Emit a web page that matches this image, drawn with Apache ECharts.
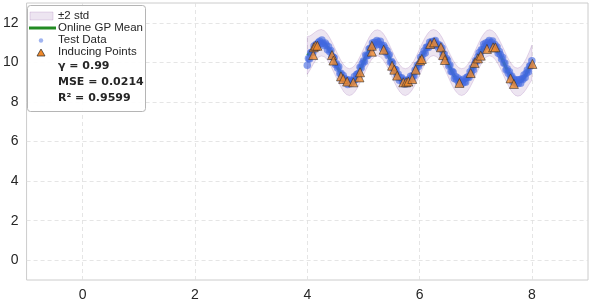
<!DOCTYPE html>
<html>
<head>
<meta charset="utf-8">
<script src="https://cdn.jsdelivr.net/npm/echarts@6/dist/echarts.min.js"></script>
<style>
html,body{margin:0;padding:0;background:#fff;}
#chart{width:590px;height:302px;}
</style>
</head>
<body>
<div id="chart"></div>
<script>
// ---- Data ----
const xTicks = [0, 2, 4, 6, 8];
const yTicks = [0, 2, 4, 6, 8, 10, 12];

// Online GP mean and 2*std, sampled at x = 4.00, 4.05, ..., 8.00
const MEAN_X0 = 4.0, MEAN_STEP = 0.05;
const gpMean = [10.35,10.48,10.66,10.83,10.95,10.99,10.95,10.81,10.58,10.30,10.00,9.69,9.42,9.19,9.05,9.00,9.05,9.19,9.41,9.70,
  10.01,10.32,10.60,10.82,10.95,10.99,10.94,10.80,10.58,10.30,9.99,9.68,9.40,9.18,9.04,9.00,9.06,9.20,9.42,9.70,
  10.01,10.32,10.60,10.82,10.96,11.00,10.95,10.81,10.59,10.31,10.00,9.69,9.41,9.19,9.05,9.00,9.05,9.19,9.41,9.69,
  10.00,10.31,10.59,10.81,10.95,10.99,10.94,10.80,10.58,10.30,9.99,9.68,9.40,9.18,9.04,9.00,9.05,9.20,9.42,9.70,
  9.99];
const gpStd2 = [0.95,0.86,0.78,0.72,0.68,0.67,0.66,0.66,0.66,0.67,0.67,0.67,0.67,0.68,0.68,0.68,0.68,0.67,0.67,0.66,
  0.66,0.66,0.66,0.66,0.66,0.66,0.66,0.67,0.67,0.67,0.67,0.68,0.68,0.68,0.68,0.68,0.67,0.67,0.66,0.66,
  0.66,0.66,0.66,0.66,0.66,0.66,0.66,0.67,0.67,0.67,0.67,0.68,0.68,0.68,0.68,0.68,0.67,0.67,0.66,0.66,
  0.66,0.66,0.66,0.66,0.66,0.66,0.66,0.67,0.67,0.67,0.68,0.68,0.68,0.69,0.70,0.71,0.72,0.74,0.77,0.81,
  0.88];

// Test data sampled at x = 4.00, 4.02, ..., 8.00
const TEST_X0 = 4.0, TEST_STEP = 0.02;
const testY = [9.85,10.19,10.17,10.48,10.51,10.50,10.83,10.73,10.91,10.78,11.00,11.07,10.94,11.13,10.96,10.85,10.98,10.88,10.64,10.79,
  10.54,10.60,10.30,10.27,10.22,9.89,9.93,9.72,9.78,9.44,9.45,9.19,9.33,9.19,9.04,9.13,8.88,9.05,9.11,8.93,
  9.07,9.05,9.29,9.13,9.38,9.42,9.44,9.75,9.71,9.93,
  10.07,10.03,10.37,10.34,10.35,10.68,10.71,10.69,10.98,10.85,11.01,10.87,11.10,11.03,10.91,11.07,10.88,10.70,10.85,10.74,
  10.50,10.59,10.33,10.38,10.01,10.04,9.95,9.65,9.65,9.63,9.35,9.40,9.10,9.21,9.22,9.02,9.09,8.91,9.10,9.01,
  8.93,9.16,9.30,9.16,9.34,9.31,9.61,9.58,9.86,9.79,
  9.94,10.26,10.15,10.41,10.58,10.47,10.76,10.78,10.75,11.01,10.91,11.06,10.87,11.06,11.10,10.88,10.93,10.73,10.86,10.67,
  10.73,10.40,10.42,10.15,10.20,10.10,9.82,9.87,9.54,9.55,9.49,9.18,9.29,9.12,9.21,8.95,9.04,9.09,8.93,9.15,
  9.02,8.99,9.23,9.27,9.23,9.53,9.46,9.73,9.63,9.92,
  10.10,10.05,10.28,10.49,10.37,10.64,10.63,10.91,10.81,10.98,10.83,11.02,11.11,10.91,11.00,11.08,10.80,10.90,10.72,10.78,
  10.46,10.55,10.38,10.17,10.25,9.96,9.97,9.63,9.68,9.45,9.52,9.29,9.31,9.02,9.16,9.08,8.93,9.12,8.95,9.12,
  8.95,9.17,9.13,9.36,9.23,9.45,9.61,9.52,9.81,9.83,
  10.08];

// Inducing points
const indX = [4.105,4.115,4.145,4.18,4.44,4.465,4.60,4.64,4.71,4.82,4.93,4.94,5.15,5.15,
  5.36,5.51,5.55,5.60,5.71,5.76,5.80,5.87,5.93,6.01,6.04,6.19,6.26,6.38,6.42,6.45,
  6.71,6.91,6.98,7.04,7.09,7.20,7.31,7.35,7.62,7.68,8.01];
const indY = [10.37,10.76,10.84,10.84,10.37,10.09,9.29,9.16,9.03,8.99,9.24,9.50,10.54,10.84,
  10.64,9.83,9.63,9.33,8.99,8.99,9.03,9.16,9.63,10.09,10.17,10.93,11.01,10.76,10.37,10.12,
  8.96,9.46,9.97,10.20,10.34,10.68,10.76,10.76,9.19,8.91,9.92];

const legendLabels = ['\u00b12 std', 'Online GP Mean', 'Test Data', 'Inducing Points'];
const statLabels = ['\u03b3 = 0.99', 'MSE = 0.0214', 'R\u00b2 = 0.9599'];

// ---- Build series data ----
const meanData = gpMean.map((v, i) => [MEAN_X0 + i * MEAN_STEP, v]);
const testData = testY.map((v, i) => [TEST_X0 + i * TEST_STEP, v]);
const indData = indX.map((x, i) => [x, indY[i]]);

const BAND_FILL = 'rgba(110,40,140,0.12)';
const BAND_EDGE = 'rgba(110,40,140,0.16)';
const GREEN = '#228b22';
const BLUE = 'rgba(65,105,225,0.78)';
const BLUE_LEG = 'rgba(65,105,225,0.5)';
const ORANGE = '#f0892a';
const TXT = '#262626';

const chart = echarts.init(document.getElementById('chart'), null, {renderer: 'canvas'});

const option = {
  animation: false,
  backgroundColor: '#ffffff',
  grid: {left: 25, right: 2, top: 3, bottom: 22, show: true, borderColor: '#cccccc', borderWidth: 1, containLabel: false},
  xAxis: {
    type: 'value', min: -1, max: 9,
    axisLine: {show: false},
    axisTick: {show: false, customValues: xTicks},
    axisLabel: {customValues: xTicks, fontFamily: 'Liberation Sans, Arial, sans-serif', fontSize: 14, color: TXT, margin: 8},
    splitLine: {show: true, lineStyle: {type: [4, 3], color: '#dedede', width: 0.8}}
  },
  yAxis: {
    type: 'value', min: -1, max: 13,
    axisLine: {show: false},
    axisTick: {show: false, customValues: yTicks},
    axisLabel: {customValues: yTicks, fontFamily: 'Liberation Sans, Arial, sans-serif', fontSize: 14, color: TXT, margin: 8},
    splitLine: {show: true, lineStyle: {type: [4, 3], color: '#dedede', width: 0.8}}
  },
  series: [
    {
      name: legendLabels[0],
      type: 'custom',
      z: 1,
      silent: true,
      data: [[MEAN_X0, gpMean[0]]],
      renderItem: function (params, api) {
        const upper = [], lower = [];
        for (let i = 0; i < gpMean.length; i++) {
          const x = MEAN_X0 + i * MEAN_STEP;
          upper.push(api.coord([x, gpMean[i] + gpStd2[i]]));
          lower.push(api.coord([x, gpMean[i] - gpStd2[i]]));
        }
        const pts = upper.concat(lower.reverse());
        return {
          type: 'polygon',
          shape: {points: pts},
          style: {fill: BAND_FILL, stroke: BAND_EDGE, lineWidth: 1}
        };
      }
    },
    {
      name: legendLabels[1],
      type: 'line',
      z: 2,
      data: meanData,
      showSymbol: false,
      smooth: true,
      lineStyle: {color: GREEN, width: 3},
      silent: true
    },
    {
      name: legendLabels[2],
      type: 'scatter',
      z: 3,
      data: testData,
      symbolSize: 7.5,
      itemStyle: {color: BLUE},
      silent: true
    },
    {
      name: legendLabels[3],
      type: 'scatter',
      z: 4,
      data: indData,
      symbol: 'triangle',
      symbolSize: 9,
      itemStyle: {color: ORANGE, borderColor: '#2a2a2a', borderWidth: 0.7},
      silent: true
    }
  ],
  graphic: [
    {type: 'rect', z: 100, shape: {x: 27.5, y: 5.5, width: 118, height: 106, r: 3},
      style: {fill: 'rgba(255,255,255,0.9)', stroke: '#b5b5b5', lineWidth: 1}},
    {type: 'rect', z: 101, shape: {x: 30, y: 12, width: 23, height: 8},
      style: {fill: BAND_FILL, stroke: BAND_EDGE, lineWidth: 1}},
    {type: 'line', z: 101, shape: {x1: 29, y1: 28, x2: 56, y2: 28},
      style: {stroke: GREEN, lineWidth: 3}},
    {type: 'circle', z: 101, shape: {cx: 41, cy: 40.5, r: 2.2},
      style: {fill: BLUE_LEG}},
    {type: 'polygon', z: 101, shape: {points: [[41, 49], [45, 56], [37, 56]]},
      style: {fill: ORANGE, stroke: '#2a2a2a', lineWidth: 0.7}},
    {type: 'text', z: 101, x: 58, y: 16, style: {text: legendLabels[0], fill: TXT, font: '11.5px "Liberation Sans", Arial, sans-serif', verticalAlign: 'middle'}},
    {type: 'text', z: 101, x: 58, y: 28, style: {text: legendLabels[1], fill: TXT, font: '11.5px "Liberation Sans", Arial, sans-serif', verticalAlign: 'middle'}},
    {type: 'text', z: 101, x: 58, y: 40, style: {text: legendLabels[2], fill: TXT, font: '11.5px "Liberation Sans", Arial, sans-serif', verticalAlign: 'middle'}},
    {type: 'text', z: 101, x: 58, y: 52, style: {text: legendLabels[3], fill: TXT, font: '11.5px "Liberation Sans", Arial, sans-serif', verticalAlign: 'middle'}},
    {type: 'text', z: 101, x: 58, y: 66.5, style: {text: statLabels[0], fill: TXT, font: 'bold 11px "DejaVu Sans", sans-serif', verticalAlign: 'middle'}},
    {type: 'text', z: 101, x: 58, y: 82.5, style: {text: statLabels[1], fill: TXT, font: 'bold 11px "DejaVu Sans", sans-serif', verticalAlign: 'middle'}},
    {type: 'text', z: 101, x: 58, y: 98.5, style: {text: statLabels[2], fill: TXT, font: 'bold 11px "DejaVu Sans", sans-serif', verticalAlign: 'middle'}}
  ]
};
chart.setOption(option);
</script>
</body>
</html>
